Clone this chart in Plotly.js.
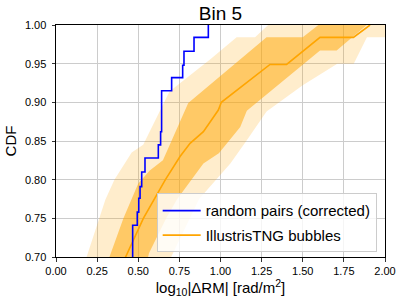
<!DOCTYPE html>
<html>
<head>
<meta charset="utf-8">
<script src="https://cdn.plot.ly/plotly-3.0.1.min.js"></script>
<style>html,body{margin:0;padding:0;background:#fff;}#chart{width:405px;height:302px;}</style>
</head>
<body>
<div id="chart"></div>
<script>
// Random pairs (corrected): empirical CDF steps (x of jump, CDF level after jump)
var blueX   = [0.455, 0.466, 0.494, 0.503, 0.511, 0.521, 0.541, 0.622, 0.636, 0.642, 0.703, 0.770, 0.778, 0.839, 0.926];
var blueCDF = [0.690, 0.741, 0.758, 0.776, 0.791, 0.810, 0.828, 0.845, 0.862, 0.915, 0.932, 0.948, 0.966, 0.984, 1.000];

// IllustrisTNG bubbles: median CDF
var medX   = [0.380, 0.424, 0.531, 0.665, 0.754, 0.815, 0.896, 0.987, 1.005, 1.301, 1.402, 1.605, 1.808, 1.909];
var medCDF = [0.680, 0.700, 0.750, 0.800, 0.830, 0.847, 0.862, 0.890, 0.900, 0.949, 0.949, 0.984, 0.984, 1.000];

// Outer (light) band edges
var outerLoX   = [0.155, 0.186, 0.300, 0.355, 0.460, 0.530, 0.690, 0.940, 1.098, 1.210, 1.290, 1.300];
var outerLoCDF = [0.680, 0.700, 0.774, 0.800, 0.835, 0.845, 0.914, 0.956, 0.984, 0.984, 1.000, 1.020];
var outerHiX   = [2.100, 2.100, 1.890, 1.810, 1.710, 1.500, 1.280, 1.160, 1.060, 0.870, 0.700, 0.690];
var outerHiCDF = [1.020, 0.984, 0.984, 0.950, 0.950, 0.922, 0.888, 0.851, 0.821, 0.775, 0.700, 0.680];

// Inner (dark) band edges
var innerLoX   = [0.300, 0.325, 0.410, 0.500, 0.570, 0.650, 0.804, 1.280, 1.500, 1.595, 1.610];
var innerLoCDF = [0.680, 0.700, 0.750, 0.795, 0.812, 0.825, 0.899, 0.984, 0.984, 1.000, 1.020];
var innerHiX   = [1.950, 1.889, 1.706, 1.605, 1.160, 1.120, 0.990, 0.896, 0.734, 0.670, 0.565, 0.540];
var innerHiCDF = [1.020, 1.000, 0.967, 0.967, 0.889, 0.868, 0.834, 0.821, 0.774, 0.750, 0.705, 0.680];

var xTicks = [0, 0.25, 0.5, 0.75, 1.0, 1.25, 1.5, 1.75, 2.0];
var yTicks = [0.70, 0.75, 0.80, 0.85, 0.90, 0.95, 1.00];

var FONT = 'Liberation Sans, Arial, Helvetica, sans-serif';

var traces = [
  {x: outerLoX.concat(outerHiX), y: outerLoCDF.concat(outerHiCDF), type: 'scatter', mode: 'lines',
   fill: 'toself', fillcolor: 'rgba(255,165,0,0.2)', line: {width: 0}, hoverinfo: 'skip', showlegend: false},
  {x: innerLoX.concat(innerHiX), y: innerLoCDF.concat(innerHiCDF), type: 'scatter', mode: 'lines',
   fill: 'toself', fillcolor: 'rgba(255,165,0,0.5)', line: {width: 0}, hoverinfo: 'skip', showlegend: false},
  {x: medX, y: medCDF, type: 'scatter', mode: 'lines', name: 'IllustrisTNG bubbles',
   line: {color: 'orange', width: 1.6}, legendrank: 2, legendgroup: 'b'},
  {x: blueX, y: blueCDF, type: 'scatter', mode: 'lines', name: 'random pairs (corrected)',
   line: {color: '#0000ff', width: 1.6, shape: 'hv'}, legendrank: 1, legendgroup: 'a'}
];

var layout = {
  width: 405, height: 302,
  margin: {l: 56, r: 20, t: 25, b: 45},
  paper_bgcolor: '#ffffff', plot_bgcolor: '#ffffff',
  font: {family: FONT, color: '#000', size: 11},
  title: {text: 'Bin 5', font: {family: FONT, size: 19, color: '#000'},
          x: 0.5, xref: 'paper', xanchor: 'center', y: 0.957, yref: 'container', yanchor: 'middle'},
  xaxis: {range: [0, 2], tickvals: xTicks, tickformat: '.2f',
          showgrid: true, gridcolor: '#cccccc', gridwidth: 1, zeroline: false,
          showline: true, linecolor: '#000', linewidth: 1, mirror: true,
          ticks: 'outside', ticklen: 3.5, tickcolor: '#000', tickwidth: 0.8,
          tickfont: {size: 11, family: FONT},
          title: {text: 'log<sub>10</sub>|ΔRM| [rad/m<sup>2</sup>]', font: {size: 15, family: FONT}, standoff: 4}},
  yaxis: {range: [0.70, 1.00], tickvals: yTicks, tickformat: '.2f',
          showgrid: true, gridcolor: '#cccccc', gridwidth: 1, zeroline: false,
          showline: true, linecolor: '#000', linewidth: 1, mirror: true,
          ticks: 'outside', ticklen: 3.5, tickcolor: '#000', tickwidth: 0.8,
          ticklabelstandoff: 3,
          tickfont: {size: 11, family: FONT},
          title: {text: 'CDF', font: {size: 15, family: FONT}, standoff: 4}},
  legend: {x: 0.306, y: 0.02, xanchor: 'left', yanchor: 'bottom',
           bgcolor: 'rgba(255,255,255,0.8)', bordercolor: '#cccccc', borderwidth: 1,
           font: {size: 15, family: FONT}, itemwidth: 38, traceorder: 'grouped', tracegroupgap: 2}
};

Plotly.newPlot('chart', traces, layout, {displayModeBar: false, staticPlot: true});
</script>
</body>
</html>
